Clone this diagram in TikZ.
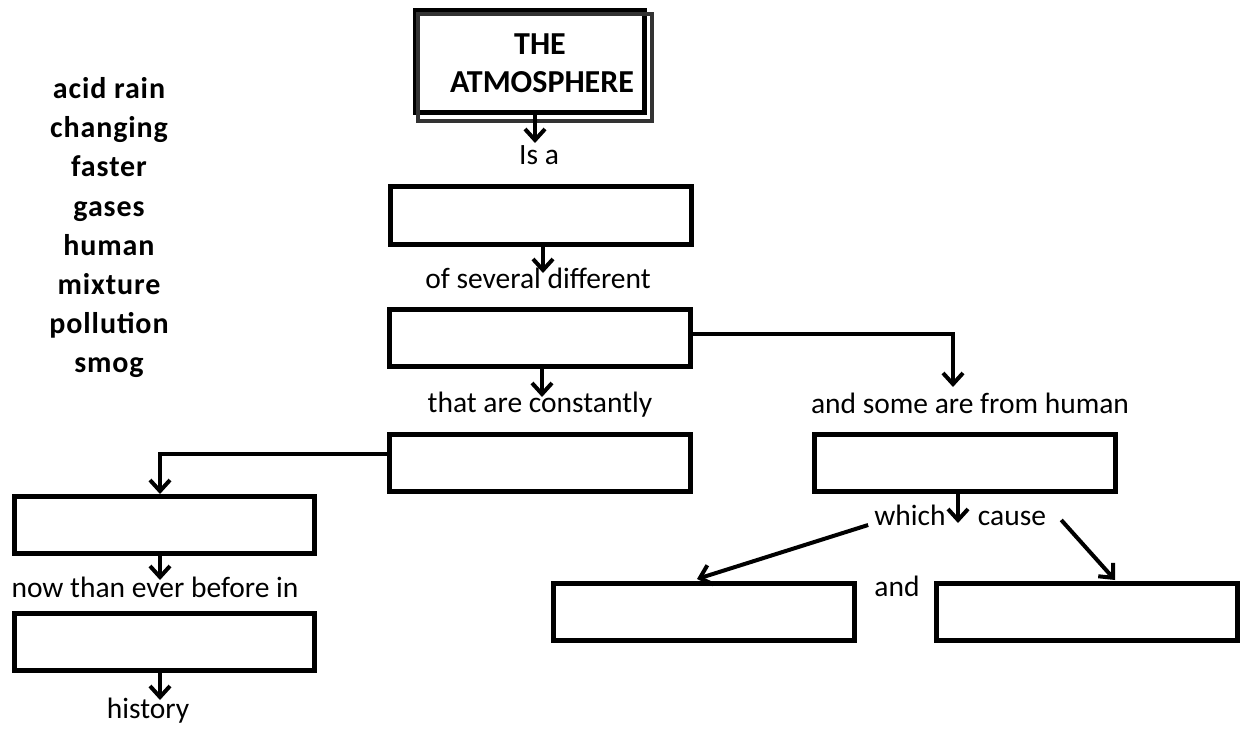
\documentclass[tikz,border=0pt]{standalone}
\usepackage{fontspec}
\setmainfont{Carlito}
\usetikzlibrary{arrows.meta}
\begin{document}
\begin{tikzpicture}[x=1pt,y=-1pt,
  blank/.style={draw, line width=5pt, minimum width=301pt, minimum height=57pt, inner sep=0pt},
  lbl/.style={font=\fontsize{29.5}{35}\selectfont, inner sep=0pt, anchor=base},
  word/.style={font=\bfseries\fontsize{30}{36}\selectfont\addfontfeatures{LetterSpace=3}, inner sep=0pt, anchor=base},
  title/.style={font=\bfseries\fontsize{32}{38}\selectfont, inner sep=0pt, anchor=base},
  shadowline/.style={draw=black!80, line width=4pt},
  conn/.style={line width=4pt, -{Straight Barb[length=11pt,width=20pt]}}]
\useasboundingbox (0,0) rectangle (1249,730);

% word list
\node[word] (w1) at (109,99) {acid rain};
\node[word] (w2) at (109,138) {changing};
\node[word] (w3) at (109,177) {faster};
\node[word] (w4) at (109,216.5) {gases};
\node[word] (w5) at (109,255.5) {human};
\node[word] (w6) at (109,294.5) {mixture};
\node[word] (w7) at (109,333.5) {pollution};
\node[word] (w8) at (109,372.5) {smog};

% title box
\node[blank, minimum width=229pt, minimum height=102pt] (atm) at (530,61.5) {};
\draw[shadowline] ([shift={(5,6)}]atm.north west) rectangle ([shift={(5,6)}]atm.south east);
\node[title] (the) at (540,55) {THE};
\node[title] (atmo) at (542,93) {ATMOSPHERE};

% blank boxes
\node[blank] (mixture) at (540.5,215.5) {};
\node[blank] (gases) at (540,337.5) {};
\node[blank] (changing) at (540,462.5) {};
\node[blank] (pollution) at (965,462.5) {};
\node[blank, minimum width=300pt] (faster) at (164.5,525) {};
\node[blank, minimum width=300pt] (history) at (164.5,642) {};
\node[blank] (acid) at (704,612) {};
\node[blank] (smog) at (1087,612) {};

% labels
\node[lbl] (isa) at (539,165) {Is a};
\node[lbl] (several) at (538,288) {of several different};
\node[lbl] (constantly) at (540,412) {that are constantly};
\node[lbl] (fromhuman) at (970,413) {and some are from human};
\node[lbl] (which) at (910,525) {which};
\node[lbl] (cause) at (1012,525) {cause};
\node[lbl] (and) at (897,596) {and};
\node[lbl] (now) at (155,597) {now than ever before in};
\node[lbl] (hist) at (148,718) {history};

% arrow tips
\coordinate (t1) at (535,143);
\coordinate (t2) at (543,273);
\coordinate (t3) at (542,397);
\coordinate (t4) at (953,387);
\coordinate (t5) at (160,494);
\coordinate (t6) at (958,523);
\coordinate (t7) at (697,579);
\coordinate (t8) at (1115,580);
\coordinate (t9) at (160,580);
\coordinate (t10) at (160,700);

% connectors
\draw[conn] (atm.south -| t1) -- (t1);
\draw[conn] (mixture.south -| t2) -- (t2);
\draw[conn] (gases.south -| t3) -- (t3);
\draw[conn] ([yshift=4pt]gases.east) -| (t4);
\draw[conn] ([yshift=9pt]changing.west) -| (t5);
\draw[conn] (pollution.south -| t6) -- (t6);
\draw[conn] ([xshift=-6pt]which.base west) -- (t7);
\draw[conn] ([xshift=15pt,yshift=5pt]cause.base east) -- (t8);
\draw[conn] (faster.south -| t9) -- (t9);
\draw[conn] (history.south -| t10) -- (t10);
\end{tikzpicture}
\end{document}
